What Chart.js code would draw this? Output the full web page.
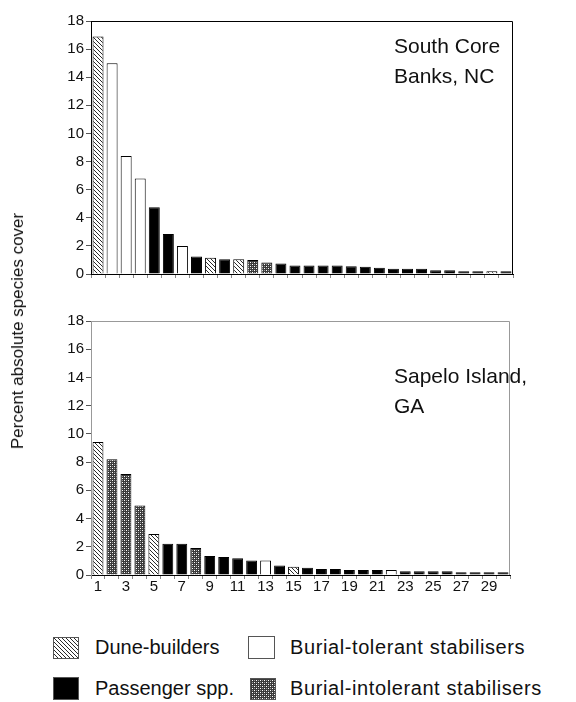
<!DOCTYPE html>
<html>
<head>
<meta charset="utf-8">
<script src="https://cdn.jsdelivr.net/npm/chart.js@4/dist/chart.umd.min.js"></script>
<style>
  html, body { margin: 0; padding: 0; background: #fff; }
  body { width: 576px; height: 702px; position: relative; overflow: hidden;
         font-family: "Liberation Sans", Arial, sans-serif; color: #111; }
  canvas.chart { position: absolute; left: 0; }
  .txt { position: absolute; font-size: 21px; line-height: 30px; white-space: nowrap; }
  .ytitle { position: absolute; left: 18px; top: 331px; font-size: 17px; white-space: nowrap;
            transform: translate(-50%, -50%) rotate(-90deg); }
  .leg { position: absolute; font-size: 20px; white-space: nowrap; }
  .sw { position: absolute; }
</style>
</head>
<body>
<canvas id="top" class="chart" width="576" height="290" style="top:0"></canvas>
<canvas id="bottom" class="chart" width="576" height="310" style="top:300px"></canvas>

<div class="ytitle">Percent absolute species cover</div>
<div class="txt" style="left:394px; top:31px">South Core<br>Banks, NC</div>
<div class="txt" style="left:394px; top:361px">Sapelo Island,<br>GA</div>

<canvas class="sw" id="sw-D" width="26" height="22" style="left:53px; top:637px"></canvas>
<div class="leg" style="left:95px; top:636px">Dune-builders</div>
<canvas class="sw" id="sw-T" width="27" height="23" style="left:248px; top:636px"></canvas>
<div class="leg" style="left:290px; top:636px; letter-spacing:0.6px">Burial-tolerant stabilisers</div>
<canvas class="sw" id="sw-P" width="26" height="23" style="left:53px; top:677px"></canvas>
<div class="leg" style="left:95px; top:677px">Passenger spp.</div>
<canvas class="sw" id="sw-I" width="26" height="22" style="left:250px; top:678px"></canvas>
<div class="leg" style="left:290px; top:677px; letter-spacing:0.6px">Burial-intolerant stabilisers</div>

<script>
// species rank 1..30
const ranks = Array.from({ length: 30 }, (_, i) => String(i + 1));

// D = dune-builder, T = burial-tolerant, P = passenger, I = burial-intolerant
const coreValues = [16.9, 15.0, 8.4, 6.8, 4.75, 2.85, 2.0, 1.25, 1.15, 1.05,
                    1.05, 1.0, 0.82, 0.75, 0.6, 0.6, 0.6, 0.6, 0.55, 0.52,
                    0.45, 0.37, 0.37, 0.37, 0.27, 0.27, 0.2, 0.2, 0.2, 0.2];
const coreTypes  = ["D","T","T","T","P","P","T","P","D","P",
                    "D","I","I","P","P","P","P","P","P","P",
                    "P","P","P","P","P","P","P","P","D","P"];

const sapeloValues = [9.43, 8.2, 7.15, 4.92, 2.9, 2.22, 2.22, 1.92, 1.34, 1.27,
                      1.18, 1.02, 1.02, 0.68, 0.58, 0.52, 0.43, 0.43, 0.36, 0.36,
                      0.36, 0.36, 0.27, 0.27, 0.27, 0.27, 0.19, 0.19, 0.19, 0.19];
const sapeloTypes  = ["D","I","I","I","D","P","P","I","P","P",
                      "P","P","T","P","D","P","P","P","P","P",
                      "P","T","P","P","P","P","P","P","P","P"];

const yTicks = [0, 2, 4, 6, 8, 10, 12, 14, 16, 18];

function hatch(ctx) {
  const c = document.createElement("canvas");
  c.width = c.height = 4;
  const g = c.getContext("2d");
  g.fillStyle = "#fff";
  g.fillRect(0, 0, 4, 4);
  g.strokeStyle = "#2a2a2a";
  g.lineWidth = 1;
  g.beginPath();
  g.moveTo(0, 0); g.lineTo(4, 4);
  g.moveTo(-1, 3); g.lineTo(1, 5);
  g.moveTo(3, -1); g.lineTo(5, 1);
  g.stroke();
  return ctx.createPattern(c, "repeat");
}

function cross(ctx) {
  const c = document.createElement("canvas");
  c.width = c.height = 4;
  const g = c.getContext("2d");
  g.fillStyle = "#3a3a3a";
  g.fillRect(0, 0, 4, 4);
  g.fillStyle = "#fff";
  g.fillRect(0, 0, 1, 1);
  g.fillRect(2, 2, 1, 1);
  g.fillStyle = "#999";
  g.fillRect(2, 0, 1, 1);
  g.fillRect(0, 2, 1, 1);
  return ctx.createPattern(c, "repeat");
}

function fills(ctx) {
  return { D: hatch(ctx), T: "#fff", P: "#000", I: cross(ctx) };
}

const framePlugin = {
  id: "frame",
  afterDraw(chart, args, opts) {
    const { ctx, chartArea: a } = chart;
    ctx.save();
    ctx.strokeStyle = opts.color;
    ctx.lineWidth = 1;
    ctx.beginPath();
    ctx.moveTo(a.left, a.top + 0.5);
    ctx.lineTo(a.right - 0.5, a.top + 0.5);
    ctx.lineTo(a.right - 0.5, a.bottom);
    ctx.stroke();
    ctx.restore();
  }
};

const tickFont = { family: "'Liberation Sans', Arial, sans-serif", size: 15 };

function makeChart(id, values, types, o) {
  const ctx = document.getElementById(id).getContext("2d");
  const f = fills(ctx);
  return new Chart(ctx, {
    type: "bar",
    data: {
      labels: ranks,
      datasets: [{
        data: values,
        backgroundColor: types.map(t => f[t]),
        borderColor: "#000",
        borderWidth: 1,
        categoryPercentage: 1,
        barPercentage: 0.78,
      }],
    },
    options: {
      responsive: false,
      animation: false,
      events: [],
      layout: { padding: { left: 51, right: o.right, top: 21, bottom: 0 } },
      plugins: {
        legend: { display: false },
        tooltip: { enabled: false },
        frame: { color: o.frame },
      },
      scales: {
        x: {
          grid: { offset: true, drawOnChartArea: false, tickLength: 4, tickColor: "#888" },
          border: { color: "#000" },
          ticks: {
            autoSkip: false, maxRotation: 0, padding: -1,
            color: "#111", font: tickFont,
            callback: (v, i) => (o.xLabels && i % 2 === 0) ? ranks[i] : "",
          },
          afterFit: s => { s.height = o.xHeight; },
        },
        y: {
          min: 0, max: 18,
          afterBuildTicks: s => { s.ticks = yTicks.map(v => ({ value: v })); },
          grid: { drawOnChartArea: false, tickLength: 5, tickColor: "#555" },
          border: { color: o.frame },
          ticks: { padding: 2, color: "#111", font: tickFont },
          afterFit: s => { s.width = 40; },
        },
      },
    },
    plugins: [framePlugin],
  });
}

makeChart("top", coreValues, coreTypes, { right: 63, frame: "#000", xLabels: false, xHeight: 16 });
makeChart("bottom", sapeloValues, sapeloTypes, { right: 66, frame: "#999", xLabels: true, xHeight: 35 });

// legend swatches
for (const t of ["D", "T", "P", "I"]) {
  const c = document.getElementById("sw-" + t);
  const g = c.getContext("2d");
  g.fillStyle = fills(g)[t];
  g.fillRect(0, 0, c.width, c.height);
  g.strokeStyle = "#555";
  g.strokeRect(0.5, 0.5, c.width - 1, c.height - 1);
}
</script>
</body>
</html>
